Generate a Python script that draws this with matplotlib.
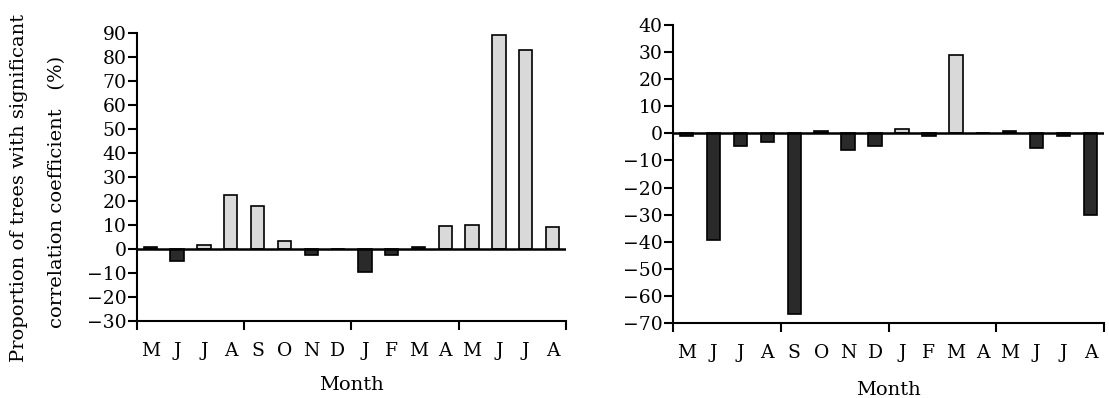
import numpy as np
import matplotlib
from matplotlib import pyplot as plt

plt.rcParams['font.family'] = ['DejaVu Serif']
matplotlib.rcParams.update({'font.size': 13})

# -----------------------------------------------------------#
# Data
# -----------------------------------------------------------#
months = ["M", "J", "J", "A", "S", "O", "N", "D", "J", "F", "M", "A", "M", "J", "J", "A"]

left_vals = [0.7, -5, 1.5, 22.5, 18, 3.5, -2.5, 0, -9.5, -2.5, 0.7, 9.5, 10, 89, 83, 9.3]
left_dark = [1, 1, 0, 0, 0, 0, 1, 1, 1, 1, 1, 0, 0, 0, 0, 0]

right_vals = [-1, -39.5, -4.5, -3, -66.5, 0.8, -6, -4.5, 1.6, -0.8, 29, 0, 0.8, -5.5, -1, -30]
right_dark = [1, 1, 1, 1, 1, 1, 1, 1, 0, 1, 0, 1, 1, 1, 1, 1]

DARK = "#2a2a2a"
LIGHT = "#d9d9d9"

fig = plt.figure(figsize=(11.09, 3.98), dpi=100)
ax1 = fig.add_axes([0.1235, 0.1935, 0.3868, 0.7236])
ax2 = fig.add_axes([0.6069, 0.1884, 0.3886, 0.7487])


def draw(ax, vals, dark, ylim, yticks, lpad):
    x = np.arange(len(vals)) + 0.5
    cols = [DARK if d else LIGHT for d in dark]
    ax.bar(x, vals, width=0.5, color=cols, edgecolor="black", linewidth=1.2, zorder=2)
    ax.axhline(0, color="black", linewidth=1.8, zorder=3)
    ax.set_xlim(0, len(vals))
    ax.set_ylim(*ylim)
    ax.set_yticks(yticks)
    ax.set_yticklabels([str(t).replace("-", "\u2212") for t in yticks])
    ax.set_xticks([0, 4, 8, 12, 16])
    ax.set_xticklabels([])
    ax.set_xticks(x, minor=True)
    ax.set_xticklabels(months, minor=True)
    ax.tick_params(axis="x", which="major", direction="out", length=6.5, width=1.5)
    ax.tick_params(axis="x", which="minor", length=0, pad=15, labelsize=13.5)
    ax.tick_params(axis="y", direction="out", length=6.5, width=1.5, pad=1, labelsize=13.5)
    for s in ["top", "right"]:
        ax.spines[s].set_visible(False)
    for s in ["left", "bottom"]:
        ax.spines[s].set_linewidth(1.5)
    ax.set_xlabel("Month", fontsize=14, labelpad=lpad)


draw(ax1, left_vals, left_dark, (-30, 90), list(range(-30, 91, 10)), 12)
draw(ax2, right_vals, right_dark, (-70, 40), list(range(-70, 41, 10)), 14)

# two-line y label, lines placed apart like the original
fig.text(19 / 1109, 1 - 188 / 398, "Proportion of trees with significant",
         rotation=90, ha="center", va="center", fontsize=14)
fig.text(57 / 1109, 1 - 192 / 398, "correlation coefficient   (%)",
         rotation=90, ha="center", va="center", fontsize=14)

plt.savefig("out.png", dpi=100)
